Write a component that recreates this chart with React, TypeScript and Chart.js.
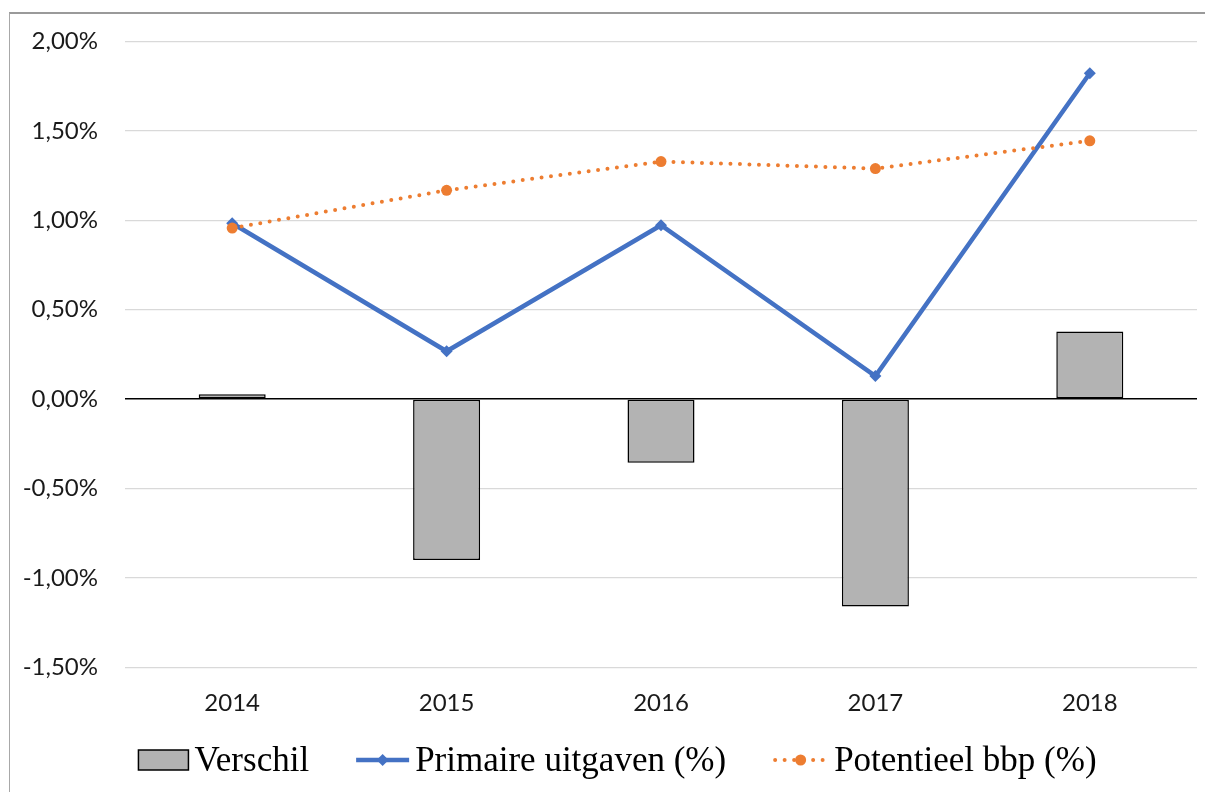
import React, { useEffect, useRef } from "react";
import { Chart, registerables } from "chart.js";

Chart.register(...registerables);

// Jaarlijkse groei (%)
const years = ["2014", "2015", "2016", "2017", "2018"];
const primaireUitgaven = [0.983, 0.267, 0.972, 0.128, 1.822];
const potentieelBbp = [0.956, 1.167, 1.328, 1.289, 1.444];
const verschil = [0.027, -0.9, -0.356, -1.161, 0.378];

const yMin = -1.5;
const yMax = 2.0;
const yStep = 0.5;

const seriesNames = ["Verschil", "Primaire uitgaven (%)", "Potentieel bbp (%)"];

const BLUE = "#4472C4";
const ORANGE = "#ED7D31";
const BAR_GREY = "#B3B3B3";

const tickFont = { family: "Lato, 'Open Sans', sans-serif", size: 24 };
const legendFontCss = "35px 'Liberation Serif', 'DejaVu Serif', serif";

const formatPct = (v: number) => v.toFixed(2).replace(".", ",") + "%";

// Legend drawn below the axis: box / line+diamond / dotted line+dot
const legendPlugin = {
  id: "excelLegend",
  afterDraw(chart: any) {
    const ctx: CanvasRenderingContext2D = chart.ctx;
    ctx.save();
    ctx.font = legendFontCss;
    const symW = [50, 53, 55];
    const textGap = 6;
    const itemGap = 47;
    const widths = seriesNames.map((s) => ctx.measureText(s).width);
    let total = 0;
    widths.forEach((w, i) => {
      total += symW[i] + textGap + w + (i < widths.length - 1 ? itemGap : 0);
    });
    let x = 617.5 - total / 2;
    const cy = 760;
    const baseline = 771;

    seriesNames.forEach((name, i) => {
      if (i === 0) {
        ctx.fillStyle = BAR_GREY;
        ctx.fillRect(x, cy - 10, symW[0], 20);
        ctx.lineWidth = 1.5;
        ctx.strokeStyle = "#000";
        ctx.strokeRect(x, cy - 10, symW[0], 20);
      } else if (i === 1) {
        ctx.strokeStyle = BLUE;
        ctx.lineWidth = 4.5;
        ctx.lineCap = "butt";
        ctx.setLineDash([]);
        ctx.beginPath();
        ctx.moveTo(x, cy);
        ctx.lineTo(x + symW[1], cy);
        ctx.stroke();
        const mx = x + symW[1] / 2;
        ctx.fillStyle = BLUE;
        ctx.beginPath();
        ctx.moveTo(mx, cy - 6);
        ctx.lineTo(mx + 6, cy);
        ctx.lineTo(mx, cy + 6);
        ctx.lineTo(mx - 6, cy);
        ctx.closePath();
        ctx.fill();
      } else {
        ctx.strokeStyle = ORANGE;
        ctx.lineWidth = 4;
        ctx.lineCap = "round";
        ctx.setLineDash([0, 9.5]);
        ctx.beginPath();
        ctx.moveTo(x + 2, cy);
        ctx.lineTo(x + symW[2], cy);
        ctx.stroke();
        ctx.setLineDash([]);
        ctx.fillStyle = ORANGE;
        ctx.beginPath();
        ctx.arc(x + symW[2] / 2, cy, 5.5, 0, Math.PI * 2);
        ctx.fill();
      }
      x += symW[i] + textGap;
      ctx.fillStyle = "#000";
      ctx.textBaseline = "alphabetic";
      ctx.textAlign = "left";
      ctx.fillText(name, x, baseline);
      x += widths[i] + itemGap;
    });
    ctx.restore();
  },
};

export default function App() {
  const canvasRef = useRef<HTMLCanvasElement | null>(null);

  useEffect(() => {
    if (!canvasRef.current) return;
    const chart = new Chart(canvasRef.current, {
      type: "bar",
      data: {
        labels: years,
        datasets: [
          {
            type: "line",
            label: seriesNames[2],
            data: potentieelBbp,
            borderColor: ORANGE,
            backgroundColor: ORANGE,
            borderWidth: 4,
            borderDash: [0, 9.5],
            borderCapStyle: "round",
            pointStyle: "circle",
            pointRadius: 5.5,
            pointBorderWidth: 0,
            pointBackgroundColor: ORANGE,
            tension: 0,
            order: 0,
          },
          {
            type: "line",
            label: seriesNames[1],
            data: primaireUitgaven,
            borderColor: BLUE,
            backgroundColor: BLUE,
            borderWidth: 4.5,
            pointStyle: "rectRot",
            pointRadius: 6,
            pointBorderWidth: 0,
            pointBackgroundColor: BLUE,
            tension: 0,
            order: 1,
          },
          {
            type: "bar",
            label: seriesNames[0],
            data: verschil,
            backgroundColor: BAR_GREY,
            borderColor: "#000",
            borderWidth: 1.5,
            borderSkipped: false,
            categoryPercentage: 1,
            barPercentage: 0.3125,
            order: 2,
          },
        ],
      },
      options: {
        responsive: false,
        animation: false,
        layout: { padding: { top: 36, right: 8, bottom: 52, left: 0 } },
        plugins: {
          legend: { display: false },
          tooltip: { enabled: false },
        },
        scales: {
          x: {
            offset: true,
            grid: { display: false, drawTicks: false },
            border: { display: false },
            ticks: { color: "#1a1a1a", font: tickFont, padding: 22 },
          },
          y: {
            min: yMin,
            max: yMax,
            grid: {
              drawTicks: false,
              color: (c: any) => (c.tick && c.tick.value === 0 ? "#000" : "#D9D9D9"),
              lineWidth: (c: any) => (c.tick && c.tick.value === 0 ? 1.5 : 1.3),
            },
            border: { display: false },
            ticks: {
              stepSize: yStep,
              color: "#1a1a1a",
              font: tickFont,
              padding: 27,
              callback: (v: any) => formatPct(Number(v)),
            },
            afterFit: (scale: any) => {
              scale.width = 125;
            },
          },
        },
      },
      plugins: [legendPlugin],
    });
    return () => chart.destroy();
  }, []);

  return (
    <div
      style={{
        position: "fixed",
        left: 0,
        top: 0,
        width: 1205,
        height: 792,
        overflow: "hidden",
        background: "#fff",
      }}
    >
      <div
        style={{
          position: "absolute",
          left: 9,
          top: 12,
          width: 1400,
          height: 1000,
          borderLeft: "1.5px solid #a8a8a8",
          borderTop: "2px solid #9a9a9a",
        }}
      />
      <canvas
        ref={canvasRef}
        width={1205}
        height={792}
        style={{ position: "absolute", left: 0, top: 0, width: 1205, height: 792 }}
      />
    </div>
  );
}
